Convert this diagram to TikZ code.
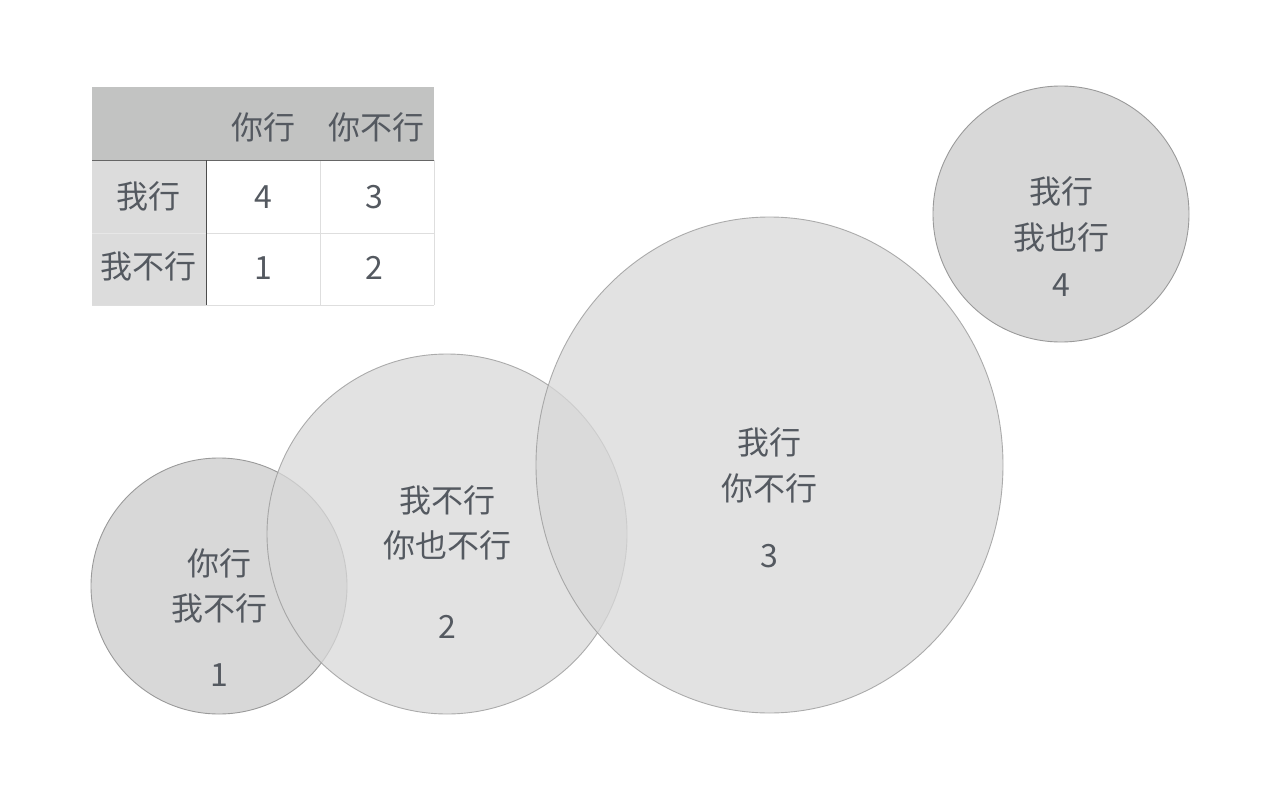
\documentclass[tikz,border=0pt]{standalone}
\usepackage{fontspec}
\setmainfont{Noto Sans CJK SC}
\usetikzlibrary{shapes.geometric}
\definecolor{txt}{HTML}{545960}
\definecolor{hdr}{HTML}{C2C3C2}
\definecolor{col}{HTML}{DCDCDC}
\definecolor{grid}{HTML}{DEDEDE}
\definecolor{cfill}{HTML}{D8D8D8}
\definecolor{cline}{HTML}{9A9A9A}
\begin{document}
\begin{tikzpicture}[x=1pt,y=-1pt,
  lbl/.style={text=txt,font=\fontsize{32}{38}\selectfont,inner sep=0pt,anchor=center},
  solidc/.style={circle,draw=cline,fill=cfill,line width=0.9pt,inner sep=0pt},
  softc/.style={draw=cline,fill=cfill,line width=0.9pt,inner sep=0pt,fill opacity=0.75,draw opacity=0.8}]
\useasboundingbox (0,0) rectangle (1280,800);
% table
\fill[hdr] (92,87) rectangle (434,160);
\fill[col] (92,160) rectangle (206,305);
\draw[grid,line width=0.8pt] (92,233) -- (434,233);
\draw[grid,line width=0.8pt] (92,305) -- (434,305);
\draw[grid,line width=0.8pt] (320,160) -- (320,305);
\draw[grid,line width=0.8pt] (434,160) -- (434,305);
\draw[col!70!white,line width=0.6pt] (92,233) -- (206,233);
\draw[gray!80!black,line width=1pt] (92,160) -- (434,160);
\draw[gray!60!black,line width=1pt] (206,160) -- (206,305);
\node[lbl] (h1) at (263,127) {你行};
\node[lbl] (h2) at (376,127) {你不行};
\node[lbl] (r1) at (148,196) {我行};
\node[lbl] (r2) at (148,266) {我不行};
\node[lbl] (v11) at (263,197) {4};
\node[lbl] (v12) at (374,197) {3};
\node[lbl] (v21) at (263,268) {1};
\node[lbl] (v22) at (374,268) {2};
% circles
\node[solidc,minimum size=256pt] (c1) at (219,586) {};
\node[softc,circle,minimum size=360pt] (c2) at (447,534) {};
\node[softc,ellipse,minimum width=467pt,minimum height=496pt] (c3) at (769.5,465) {};
\node[solidc,minimum size=256pt] (c4) at (1061,214) {};
% circle texts
\node[lbl] (t1a) at (219,563) {你行};
\node[lbl] (t1b) at (219,608) {我不行};
\node[lbl] (t1c) at (219,675) {1};
\node[lbl] (t2a) at (447,500) {我不行};
\node[lbl] (t2b) at (447,545) {你也不行};
\node[lbl] (t2c) at (447,627) {2};
\node[lbl] (t3a) at (769,442) {我行};
\node[lbl] (t3b) at (769,488) {你不行};
\node[lbl] (t3c) at (769,556) {3};
\node[lbl] (t4a) at (1061,191) {我行};
\node[lbl] (t4b) at (1061,237) {我也行};
\node[lbl] (t4c) at (1061,285) {4};
\end{tikzpicture}
\end{document}
